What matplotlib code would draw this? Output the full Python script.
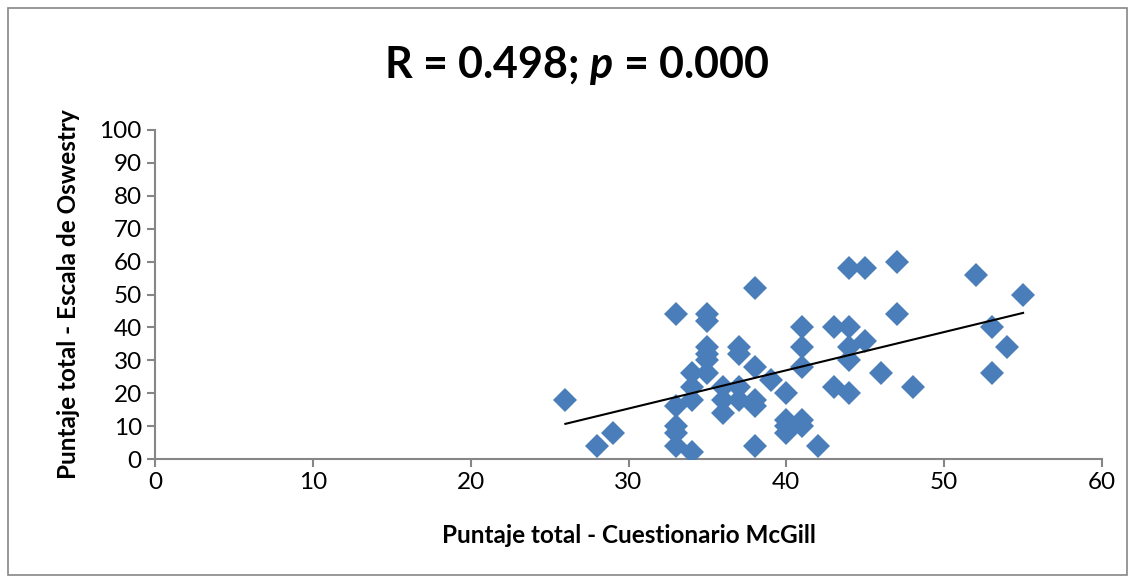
import matplotlib.pyplot as plt
import numpy as np

# Puntaje McGill (x) vs Oswestry (y)
mcgill = [26, 28, 29,
          33, 33, 33, 33, 33,
          34, 34, 34, 34,
          35, 35, 35, 35, 35, 35,
          36, 36, 36,
          37, 37, 37, 37,
          38, 38, 38, 38, 38,
          39,
          40, 40, 40, 40,
          41, 41, 41, 41, 41,
          42,
          43, 43,
          44, 44, 44, 44, 44,
          45, 45,
          46,
          47, 47,
          48,
          52,
          53, 53,
          54,
          55]
oswestry = [18, 4, 8,
            44, 16, 10, 8, 4,
            26, 22, 18, 2,
            44, 42, 34, 32, 30, 26,
            22, 18, 14,
            34, 32, 22, 18,
            52, 28, 18, 16, 4,
            24,
            20, 12, 10, 8,
            40, 34, 28, 12, 10,
            4,
            40, 22,
            58, 40, 34, 30, 20,
            58, 36,
            26,
            60, 44,
            22,
            56,
            40, 26,
            34,
            50]

x = np.array(mcgill)
y = np.array(oswestry)
slope, intercept = np.polyfit(x, y, 1)
xl = np.array([x.min(), x.max()])

plt.rcParams['font.family'] = ['Lato', 'DejaVu Sans']
plt.rcParams['mathtext.fontset'] = 'custom'
plt.rcParams['mathtext.it'] = 'Lato:italic:bold'
plt.rcParams['mathtext.rm'] = 'Lato:bold'

fig = plt.figure(figsize=(11.35, 5.83), dpi=100)
ax = fig.add_axes([155/1135, 1 - 459/583, (1102-155)/1135, (459-130)/583])

ax.plot(x, y, linestyle='none', marker='D', markersize=12, color='#4a7ebb',
        markeredgewidth=0, zorder=3)
ax.plot(xl, slope*xl + intercept, color='black', linewidth=1.5, zorder=4)

ax.set_xlim(0, 60)
ax.set_ylim(0, 100)
ax.set_xticks(range(0, 61, 10))
ax.set_yticks(range(0, 101, 10))
for s in ['top', 'right']:
    ax.spines[s].set_visible(False)
for s in ['left', 'bottom']:
    ax.spines[s].set_color('#868686')
    ax.spines[s].set_linewidth(1.5)
ax.tick_params(colors='#868686', labelcolor='black', labelsize=17.5,
               length=6, width=1.5, direction='out')

ax.set_xlabel('Puntaje total - Cuestionario McGill', fontsize=17.5,
              fontweight='bold', labelpad=22)
ax.set_ylabel('Puntaje total - Escala de Oswestry', fontsize=17.5,
              fontweight='bold', labelpad=14)

fig.text(0.508, 1 - 78/583, r'R = 0.498; $p$ = 0.000', fontsize=31,
         fontweight='bold', ha='center', va='baseline')

fig.patches.append(plt.Rectangle((8/1135, 8/583), 1119/1135, 567/583,
                                 transform=fig.transFigure, fill=False,
                                 edgecolor='#868686', linewidth=1.2))

fig.savefig('out.png', dpi=100)
